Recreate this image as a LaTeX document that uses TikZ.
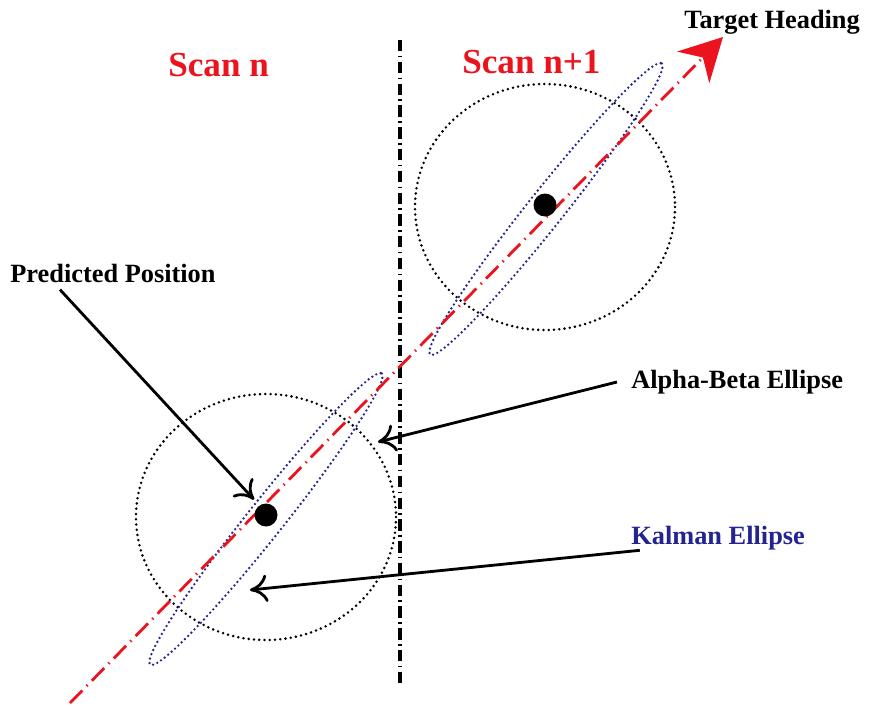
\documentclass[tikz,border=0pt]{standalone}
\usepackage{xcolor}
\usepackage{fontspec}
\setmainfont{Liberation Serif}
\usepackage{tikz}
\usetikzlibrary{arrows.meta,positioning}
\definecolor{scanred}{RGB}{235,20,30}
\definecolor{kalblue}{RGB}{35,35,145}

\begin{document}
\begin{tikzpicture}[x=0.02cm,y=-0.02cm,
  lbl/.style={font=\fontsize{15}{17}\selectfont\bfseries,inner sep=0pt,anchor=west},
  scanlbl/.style={font=\fontsize{20}{22}\selectfont\bfseries,text=scanred,inner sep=0pt,anchor=west},
  gate/.style={line width=1.6pt,dash pattern=on 0pt off 3pt,line cap=round},
  kal/.style={kalblue,line width=1.5pt,dash pattern=on 0pt off 2.6pt,line cap=round},
  dot/.style={circle,fill=black,minimum size=0.46cm,inner sep=0pt},
  pointer/.style={line width=1.6pt,-{Computer Modern Rightarrow[length=0.35cm,width=0.55cm]}},
  heading/.style={scanred,line width=1.6pt,dash pattern=on 10pt off 3.5pt on 0.8pt off 3.5pt,
    -{Stealth[length=0.85cm,width=0.9cm]}},
  divider/.style={line width=2.2pt,dash pattern=on 6.5pt off 2.5pt on 0.9pt off 2.5pt}]
  \useasboundingbox (0,0) rectangle (869,706);

  % scan divider
  \draw[divider] (400,40) -- (400,685);

  % labels
  \node[scanlbl] (scann) at (168,65) {Scan n};
  \node[scanlbl] (scannext) at (462,62) {Scan n+1};
  \node[lbl] (target) at (684,22) {Target Heading};
  \node[lbl] (pred) at (10,273) {Predicted Position};
  \node[lbl] (alpha) at (631,382) {Alpha-Beta Ellipse};
  \node[lbl,text=kalblue] (kalman) at (631,538) {Kalman Ellipse};

  % gates
  \draw[gate] (266,517) ellipse [x radius=130,y radius=123];
  \draw[gate] (545,207) ellipse [x radius=130,y radius=123];
  \draw[kal,rotate around={51.5:(266,519)}] (266,519) ellipse [x radius=186,y radius=18];
  \draw[kal,rotate around={51.5:(546,209)}] (546,209) ellipse [x radius=186,y radius=18];

  % heading
  \coordinate (tail) at (70,703);
  \coordinate (head) at (723,37);
  \draw[heading] (tail) -- (head);

  % positions
  \node[dot] (pos1) at (266,515) {};
  \node[dot] (pos2) at (545,205) {};

  % pointers
  \coordinate (abtip) at (378,442);
  \coordinate (kaltip) at (250,590);
  \draw[pointer] ([xshift=1cm,yshift=-4pt]pred.south west) -- ([xshift=-2pt,yshift=4pt]pos1.north west);
  \draw[pointer] ([xshift=-8pt]alpha.west) -- (abtip);
  \draw[pointer] ([xshift=5pt]kalman.south west) -- (kaltip);
\end{tikzpicture}
\end{document}
